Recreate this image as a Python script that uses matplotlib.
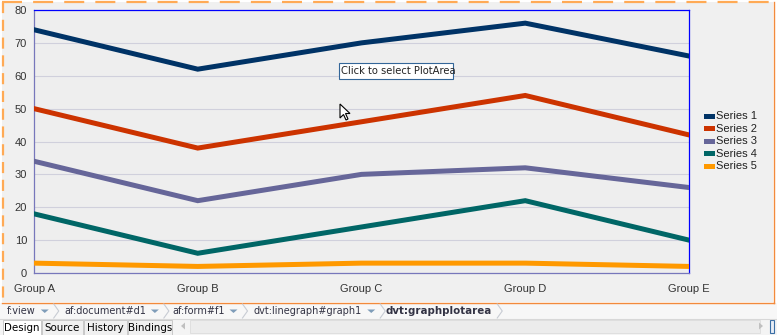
import matplotlib.pyplot as plt
from matplotlib.patches import Rectangle, Polygon

groups = ['Group A', 'Group B', 'Group C', 'Group D', 'Group E']
series_names = ['Series 1', 'Series 2', 'Series 3', 'Series 4', 'Series 5']
series_1 = [74, 62, 70, 76, 66]
series_2 = [50, 38, 46, 54, 42]
series_3 = [34, 22, 30, 32, 26]
series_4 = [18, 6, 14, 22, 10]
series_5 = [3, 2, 3, 3, 2]
colors = ['#003366', '#cc3300', '#666699', '#006666', '#ff9900']
y_ticks = [0, 10, 20, 30, 40, 50, 60, 70, 80]

breadcrumbs = ['f:view', 'af:document#d1', 'af:form#f1', 'dvt:linegraph#graph1', 'dvt:graphplotarea']
tabs = ['Design', 'Source', 'History', 'Bindings']

W, H = 777, 335
FONT = 'Liberation Sans'
UI_FONT = 'DejaVu Sans'

fig = plt.figure(figsize=(W / 100, H / 100), dpi=100)
fig.patch.set_facecolor('white')
renderer = fig.canvas.get_renderer()

# editor chrome drawn in pixel coordinates
ui = fig.add_axes([0, 0, 1, 1], zorder=0)
ui.set_xlim(0, W)
ui.set_ylim(H, 0)
ui.axis('off')

ui.add_patch(Rectangle((2, 2), 771, 300, facecolor='#f0f0f0', edgecolor='none'))
ui.plot([2, 773], [1.5, 1.5], color='#ffaa55', lw=1.6, dashes=(9, 5))
ui.plot([2.5, 2.5], [2, 302], color='#ffaa55', lw=1.6, dashes=(5, 3))
ui.plot([773.5, 773.5], [2, 302.5], color='#f28a3c', lw=1.0)
ui.plot([2, 773.5], [302.5, 302.5], color='#f28a3c', lw=1.0)

# breadcrumb bar
ui.add_patch(Rectangle((0, 303), W, 16, facecolor='#f7f7f7', edgecolor='none'))
ui.plot([0, W], [318.5, 318.5], color='#d8d8d8', lw=0.8)
crumb_x = [7, 64, 172, 254, 386]
for i, (name, x) in enumerate(zip(breadcrumbs, crumb_x)):
    last = i == len(breadcrumbs) - 1
    t = ui.text(x, 311, name, fontsize=7.4 if last else 7.0, family=UI_FONT, va='center', ha='left',
                color='#333344', fontweight='bold' if last else 'normal')
    x_end = t.get_window_extent(renderer=renderer).x1
    if not last:
        ax_ = x_end + 5
        ui.add_patch(Polygon([[ax_, 309.5], [ax_ + 8, 309.5], [ax_ + 4, 313]],
                             facecolor='#7f9db9', edgecolor='none'))
        cx = ax_ + 13
    else:
        cx = x_end + 5
    ui.plot([cx, cx + 5, cx], [304, 311, 318], color='#c8ccd4', lw=0.8)

# tab row
ui.add_patch(Rectangle((0, 319), W, 16, facecolor='#f4f4f4', edgecolor='none'))
tab_x = [3, 42, 84, 128, 173]
for i, name in enumerate(tabs):
    x0, x1 = tab_x[i], tab_x[i + 1]
    ui.add_patch(Rectangle((x0, 319.5), x1 - x0 - 1, 16, facecolor='white' if i == 0 else '#f0f0f0',
                           edgecolor='#c8c8c8', lw=0.7))
    ui.text((x0 + x1 - 1) / 2, 328, name, fontsize=7.4, family=UI_FONT, ha='center', va='center',
            color='black')
ui.add_patch(Polygon([[181, 326], [185, 322.5], [185, 329.5]], facecolor='#c0c0c0', edgecolor='none'))
ui.add_patch(Rectangle((190, 320), 570, 13, facecolor='#ececec', edgecolor='#dddddd', lw=0.6))
ui.add_patch(Polygon([[763, 326], [759, 322.5], [759, 329.5]], facecolor='#c0c0c0', edgecolor='none'))
ui.add_patch(Rectangle((769.5, 319.5), 4, 13, facecolor='#e8eef6', edgecolor='#3a6ea5', lw=0.8))

# plot area
left, right, top, bottom = 34, 689, 10, 273
ax = fig.add_axes([left / W, 1 - bottom / H, (right - left) / W, (bottom - top) / H], zorder=1)
ax.set_facecolor('#eeeeee')

x = list(range(len(groups)))
for name, values, c in zip(series_names, [series_1, series_2, series_3, series_4, series_5], colors):
    ax.plot(x, values, color=c, lw=3.6, solid_joinstyle='miter', label=name, zorder=3)

ax.set_xlim(0, len(groups) - 1)
ax.set_ylim(0, 80)
ax.set_yticks(y_ticks)
ax.set_xticks(x)
ax.set_xticklabels(groups)
ax.grid(axis='y', color='#d0d0dc', lw=0.8, zorder=1)
ax.tick_params(length=0, labelsize=8, labelcolor='#333333')
ax.tick_params(axis='y', pad=5)
ax.tick_params(axis='x', pad=8)
for lbl in ax.get_xticklabels() + ax.get_yticklabels():
    lbl.set_family(FONT)
ax.spines['top'].set_color('#0000ff')
ax.spines['right'].set_color('#0000ff')
ax.spines['left'].set_color('#7777bb')
ax.spines['bottom'].set_color('#7777bb')
for s in ax.spines.values():
    s.set_linewidth(0.9)

# legend
for i, (name, c) in enumerate(zip(series_names, colors)):
    y = 116 + i * 12.6
    ui.add_patch(Rectangle((704, y - 2.5), 11, 5, facecolor=c, edgecolor='none'))
    ui.text(716.5, y, name, fontsize=8, family=FONT, va='center', ha='left', color='#222222')

# hover tooltip and pointer
ov = fig.add_axes([0, 0, 1, 1], zorder=2)
ov.set_xlim(0, W)
ov.set_ylim(H, 0)
ov.axis('off')
ov.add_patch(Rectangle((338.5, 62.5), 114, 16, facecolor='white', edgecolor='#336699', lw=0.8))
ov.text(341, 71, 'Click to select PlotArea', fontsize=7.2, family=UI_FONT, va='center', ha='left',
        color='#222222')
cursor = [[340, 104], [340, 118], [343.5, 114.5], [346, 120], [348, 119], [345.5, 113.5], [350, 113.5]]
ov.add_patch(Polygon(cursor, closed=True, facecolor='white', edgecolor='black', lw=0.8, zorder=5))

fig.savefig('out.png', dpi=100)
